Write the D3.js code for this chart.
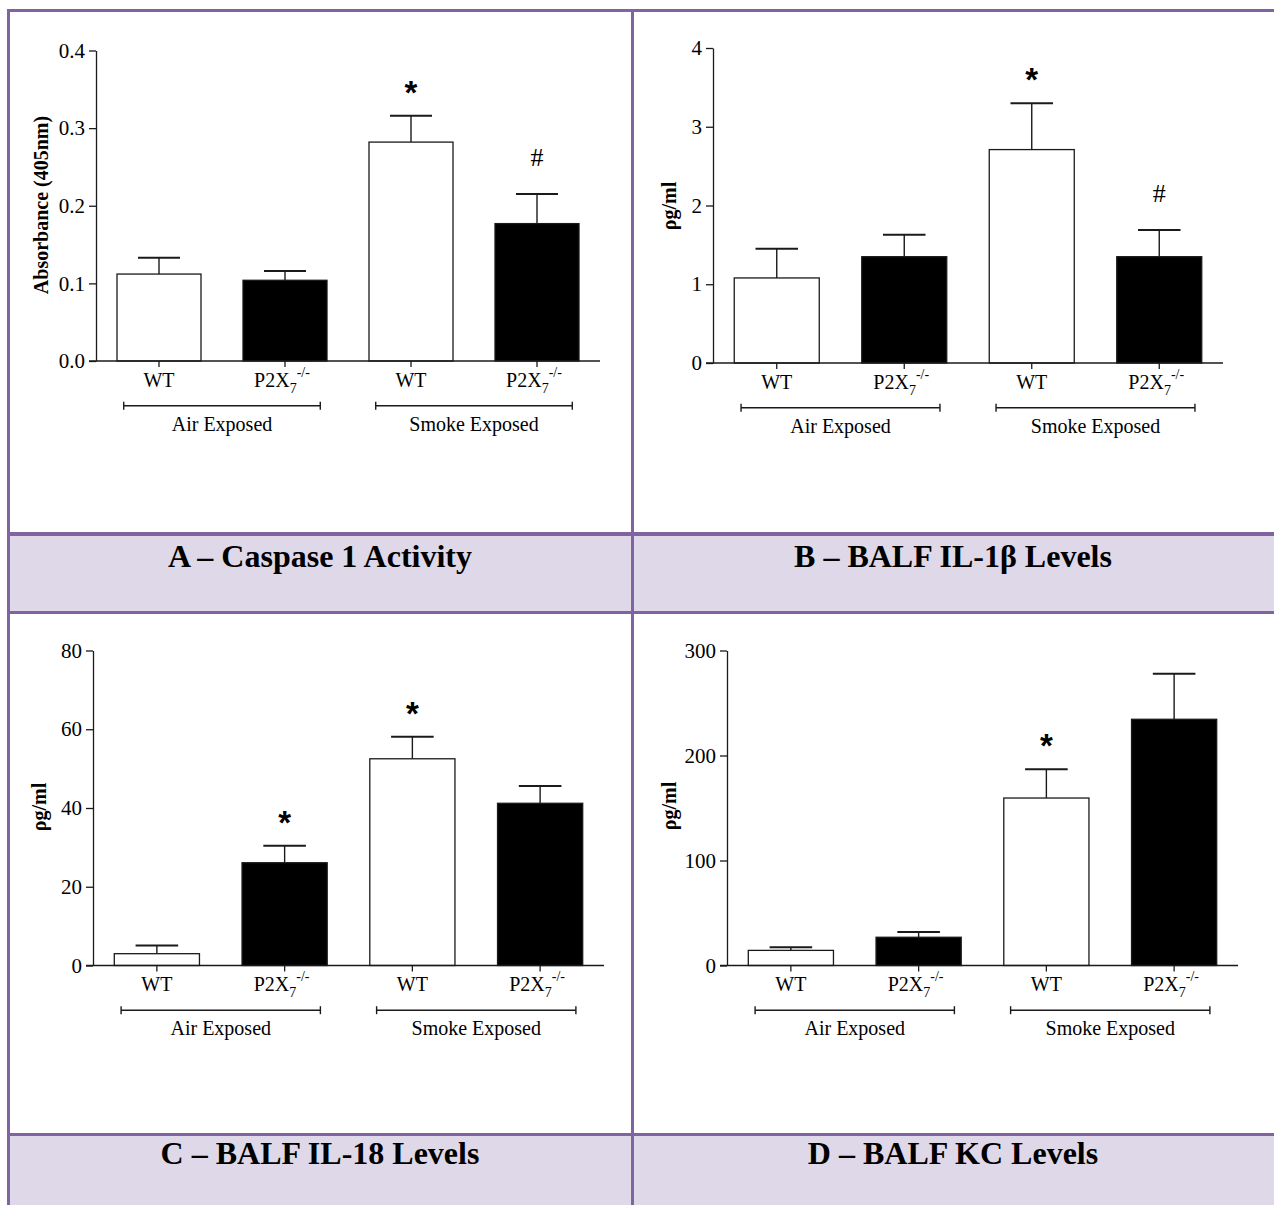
<!DOCTYPE html>
<html>
<head>
<meta charset="utf-8">
<script src="https://cdn.jsdelivr.net/npm/d3@7"></script>
<style>
  html, body { margin: 0; padding: 0; background: #fff; }
  svg { display: block; }
  text { font-family: "Liberation Serif", "Times New Roman", serif; fill: #000; }
</style>
</head>
<body>
<svg id="fig" width="1274" height="1205"></svg>
<script>
// Shared categories
const categories = ["WT", "P2X7-/-", "WT", "P2X7-/-"];
const groups = ["Air Exposed", "Smoke Exposed"];

// A – caspase 1 activity (absorbance at 405 nm), mean and SEM
const caspaseMean = [0.112, 0.104, 0.282, 0.177];
const caspaseSem = [0.021, 0.012, 0.034, 0.038];
const caspaseTicks = [0, 0.1, 0.2, 0.3, 0.4];
const caspaseMarks = ["", "", "*", "#"];

// B – BALF IL-1β (pg/ml)
const il1bMean = [1.08, 1.35, 2.71, 1.35];
const il1bSem = [0.37, 0.28, 0.59, 0.34];
const il1bTicks = [0, 1, 2, 3, 4];
const il1bMarks = ["", "", "*", "#"];

// C – BALF IL-18 (pg/ml)
const il18Mean = [3.0, 26.1, 52.5, 41.2];
const il18Sem = [2.1, 4.3, 5.6, 4.4];
const il18Ticks = [0, 20, 40, 60, 80];
const il18Marks = ["", "*", "*", ""];

// D – BALF KC (pg/ml)
const kcMean = [14.4, 26.9, 159.5, 234.5];
const kcSem = [2.9, 5.1, 27.5, 43.3];
const kcTicks = [0, 100, 200, 300];
const kcMarks = ["", "", "*", ""];

const panelTitles = ["A – Caspase 1 Activity", "B – BALF IL-1β Levels",
                     "C – BALF IL-18 Levels", "D – BALF KC Levels"];
const yTitles = ["Absorbance (405nm)", "ρg/ml", "ρg/ml", "ρg/ml"];

const svg = d3.select("#fig");

// ---- table frame: purple rules and lilac caption rows ----
const PURPLE = "#8064A2", LILAC = "#DFD8E8";
const W = 1274, H = 1205;
svg.append("rect").attr("x", 8).attr("y", 534).attr("width", W - 8).attr("height", 78.5).attr("fill", LILAC);
svg.append("rect").attr("x", 8).attr("y", 1134.5).attr("width", W - 8).attr("height", H - 1134.5).attr("fill", LILAC);
const rules = svg.append("g").attr("stroke", PURPLE).attr("fill", "none");
[[10.5, 3], [534, 4], [612.5, 3], [1134.5, 3]].forEach(([y, w]) =>
  rules.append("line").attr("x1", 7).attr("x2", W).attr("y1", y).attr("y2", y).attr("stroke-width", w));
[8.5, 632.5].forEach(x =>
  rules.append("line").attr("x1", x).attr("x2", x).attr("y1", 9).attr("y2", H).attr("stroke-width", 3));

// ---- panels ----
const panels = [
  { mean: caspaseMean, sem: caspaseSem, ticks: caspaseTicks, marks: caspaseMarks, fmt: d3.format(".1f"),
    left: 96, right: 600, top: 50.5, bottom: 361, yTitleX: 48, yTitleY: 205, titleX: 320, titleY: 567 },
  { mean: il1bMean, sem: il1bSem, ticks: il1bTicks, marks: il1bMarks, fmt: d3.format("d"),
    left: 713, right: 1223, top: 48, bottom: 363, yTitleX: 676, yTitleY: 206, titleX: 953, titleY: 567 },
  { mean: il18Mean, sem: il18Sem, ticks: il18Ticks, marks: il18Marks, fmt: d3.format("d"),
    left: 93, right: 604, top: 650.5, bottom: 965.5, yTitleX: 46, yTitleY: 807, titleX: 320, titleY: 1164 },
  { mean: kcMean, sem: kcSem, ticks: kcTicks, marks: kcMarks, fmt: d3.format("d"),
    left: 727, right: 1238, top: 650.5, bottom: 965.5, yTitleX: 676, yTitleY: 806, titleX: 953, titleY: 1164 }
];

const INK = "#1a1a1a";

panels.forEach((p, pi) => {
  const g = svg.append("g");
  const ids = categories.map((c, i) => i);

  const x = d3.scaleBand().domain(ids).range([p.left, p.right])
    .paddingInner(1 / 3).paddingOuter(1 / 6);
  const y = d3.scaleLinear().domain([0, p.ticks[p.ticks.length - 1]]).range([p.bottom, p.top]);
  const bw = x.bandwidth();
  const cx = i => x(i) + bw / 2;

  // error bars (upper half only), drawn beneath the bars
  const err = g.append("g").attr("stroke", INK);
  ids.forEach(i => {
    const yt = y(p.mean[i] + p.sem[i]);
    err.append("line").attr("x1", cx(i)).attr("x2", cx(i))
      .attr("y1", y(p.mean[i])).attr("y2", yt).attr("stroke-width", 1.4);
    err.append("line").attr("x1", cx(i) - bw / 4).attr("x2", cx(i) + bw / 4)
      .attr("y1", yt).attr("y2", yt).attr("stroke-width", 2);
  });

  // bars: wild type open, knockout filled
  g.append("g").selectAll("rect").data(ids).join("rect")
    .attr("x", i => x(i))
    .attr("y", i => y(p.mean[i]))
    .attr("width", bw)
    .attr("height", i => y(0) - y(p.mean[i]))
    .attr("fill", i => (i % 2 ? "#000" : "#fff"))
    .attr("stroke", INK)
    .attr("stroke-width", 1.3);

  // significance marks above the error bars
  ids.forEach(i => {
    const m = p.marks[i];
    if (!m) return;
    const yt = y(p.mean[i] + p.sem[i]);
    if (m === "*") {
      g.append("text").attr("x", cx(i)).attr("y", yt - 31 + 19)
        .attr("text-anchor", "middle")
        .style("font-family", "'Liberation Sans', Arial, sans-serif")
        .style("font-weight", "bold").style("font-size", "33px").text(m);
    } else {
      g.append("text").attr("x", cx(i)).attr("y", yt - 37 + 9)
        .attr("text-anchor", "middle").style("font-size", "26px").text(m);
    }
  });

  // y axis
  const ya = g.append("g").attr("transform", `translate(${p.left},0)`)
    .call(d3.axisLeft(y).tickValues(p.ticks).tickFormat(p.fmt).tickSize(7).tickSizeOuter(0).tickPadding(4));
  ya.selectAll("path, line").attr("stroke", INK).attr("stroke-width", 1.3);
  ya.selectAll("text").style("font-family", "'Liberation Serif', serif").style("font-size", "21px").attr("fill", "#000");

  // x axis
  const xa = g.append("g").attr("transform", `translate(0,${p.bottom})`)
    .call(d3.axisBottom(x).tickSize(6).tickSizeOuter(0).tickFormat(""));
  xa.select(".domain").attr("d", `M${p.left - 7},0H${p.right}`);
  xa.selectAll("path, line").attr("stroke", INK).attr("stroke-width", 1.3);
  xa.selectAll("text").remove();

  // category labels with genotype sub/superscripts
  ids.forEach(i => {
    const lab = categories[i];
    const t = g.append("text").attr("x", cx(i)).attr("y", p.bottom + 25.7)
      .attr("text-anchor", "middle").style("font-size", "20px");
    const m = lab.match(/^(P2X)(\d)(.*)$/);
    if (m) {
      t.attr("x", cx(i) - 3);
      t.append("tspan").text(m[1]);
      t.append("tspan").attr("dy", 6).style("font-size", "14px").text(m[2]);
      t.append("tspan").attr("dy", -16).style("font-size", "14px").text(m[3]);
    } else {
      t.text(lab);
    }
  });

  // group brackets and captions
  const step = x.step();
  groups.forEach((gr, k) => {
    const x1 = cx(2 * k) - 0.28 * step, x2 = cx(2 * k + 1) + 0.28 * step;
    const by = p.bottom + 44.7;
    const br = g.append("g").attr("stroke", INK).attr("stroke-width", 1.4);
    br.append("line").attr("x1", x1).attr("x2", x2).attr("y1", by).attr("y2", by);
    br.append("line").attr("x1", x1).attr("x2", x1).attr("y1", by - 4).attr("y2", by + 4);
    br.append("line").attr("x1", x2).attr("x2", x2).attr("y1", by - 4).attr("y2", by + 4);
    g.append("text").attr("x", (x1 + x2) / 2).attr("y", p.bottom + 69.5)
      .attr("text-anchor", "middle").style("font-size", "20px").text(gr);
  });

  // y axis title
  g.append("text")
    .attr("transform", `translate(${p.yTitleX},${p.yTitleY}) rotate(-90)`)
    .attr("text-anchor", "middle")
    .style("font-weight", "bold").style("font-size", "20px")
    .text(yTitles[pi]);

  // panel caption
  svg.append("text").attr("x", p.titleX).attr("y", p.titleY)
    .attr("text-anchor", "middle")
    .style("font-weight", "bold").style("font-size", "32px")
    .text(panelTitles[pi]);
});
</script>
</body>
</html>
